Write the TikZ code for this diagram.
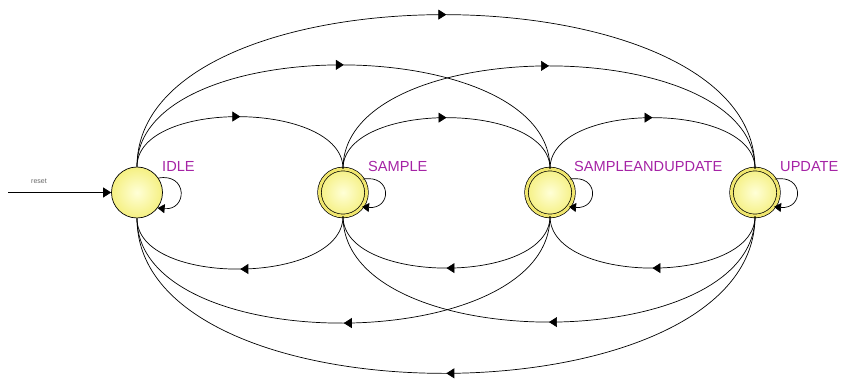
\documentclass[tikz,border=0pt]{standalone}
\usepackage{fontspec}
\setmainfont{Liberation Sans}
\usetikzlibrary{arrows.meta,decorations.markings}
\definecolor{lbl}{RGB}{165,35,165}
\definecolor{ringyel}{RGB}{240,230,110}
\definecolor{fillin}{RGB}{255,255,215}
\definecolor{fillout}{RGB}{245,240,130}
\tikzset{
  stateA/.style={circle, draw=black, line width=0.7pt, minimum size=51pt, inner sep=0pt,
     shading=radial, inner color=fillin, outer color=fillout},
  stateB/.style={circle, draw=black, line width=0.7pt, double=ringyel, double distance=3pt,
     minimum size=47pt, inner sep=0pt, shading=radial, inner color=fillin, outer color=fillout},
  lab/.style={text=lbl, font=\fontsize{14.6}{16}\selectfont, anchor=base west, inner sep=0pt},
  trans/.style={line width=0.7pt, postaction={decorate},
     decoration={markings, mark=at position 0.5 with {\arrow{Triangle[length=8pt,width=10pt]}}}},
  loopy/.style={line width=0.7pt, -{Triangle[length=7pt,width=9pt]}},
}
\begin{document}
\begin{tikzpicture}[x=1pt,y=1pt]
\useasboundingbox (0,0) rectangle (842,380);
\node[stateA] (idle) at (137,187.5) {};
\node[stateB] (sample) at (343,187.5) {};
\node[stateB] (sau) at (550,187.5) {};
\node[stateB] (update) at (755,187.5) {};

\node[lab] (lidle) at (162,208) {IDLE};
\node[lab] (lsample) at (368,208) {SAMPLE};
\node[lab] (lsau) at (574,208) {SAMPLEANDUPDATE};
\node[lab] (lupdate) at (780,208) {UPDATE};

\coordinate (rs) at (8,187.5);
\node[text=black!60, font=\fontsize{7}{8}\selectfont] (lreset) at (39,199) {reset};
\draw[line width=0.7pt, -{Triangle[length=8pt,width=10pt]}] (rs) -- (idle.west);

% top arcs
\draw[trans] (idle.north) .. controls +(0,68) and +(0,68) .. (sample.north);
\draw[trans] (sample.north) .. controls +(0,68) and +(0,68) .. (sau.north);
\draw[trans] (sau.north) .. controls +(0,68) and +(0,68) .. (update.north);
\draw[trans] (idle.north) .. controls +(0,137) and +(0,137) .. (sau.north);
\draw[trans] (sample.north) .. controls +(0,137) and +(0,137) .. (update.north);
\draw[trans] (idle.north) .. controls +(0,204) and +(0,204) .. (update.north);

% bottom arcs
\draw[trans] (sample.south) .. controls +(0,-69) and +(0,-69) .. (idle.south);
\draw[trans] (sau.south) .. controls +(0,-69) and +(0,-69) .. (sample.south);
\draw[trans] (update.south) .. controls +(0,-69) and +(0,-69) .. (sau.south);
\draw[trans] (sau.south) .. controls +(0,-141) and +(0,-141) .. (idle.south);
\draw[trans] (update.south) .. controls +(0,-141) and +(0,-141) .. (sample.south);
\draw[trans] (update.south) .. controls +(0,-208) and +(0,-208) .. (idle.south);

% self loops
\foreach \s in {idle,sample,sau,update}{
  \draw[loopy] (\s.34) .. controls +(10:30) and +(-5:30) .. (\s.-37);
}
\end{tikzpicture}
\end{document}
